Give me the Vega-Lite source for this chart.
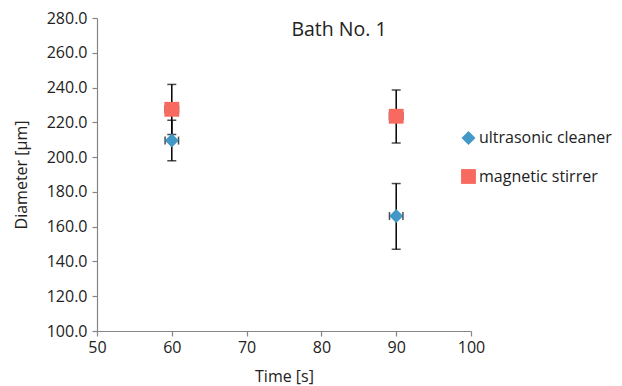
{
  "$schema": "https://vega.github.io/schema/vega-lite/v6.json",
  "autosize": "none",
  "width": 374,
  "height": 313,
  "padding": {"left": 97, "top": 18, "right": 151, "bottom": 55},
  "background": "white",
  "config": {
    "view": {"stroke": null},
    "font": "Open Sans",
    "axis": {"grid": false, "domainColor": "#868686", "tickColor": "#868686", "domainWidth": 1.2, "tickWidth": 1.2, "labelColor": "#222222", "titleColor": "#222222", "labelFont": "Open Sans", "titleFont": "Open Sans", "labelFontSize": 16, "titleFontSize": 16, "titleFontWeight": "normal", "tickSize": 5, "labelOverlap": false, "labelFlush": false, "labelSeparation": 0}
  },
  "title": {"text": "Bath No. 1", "font": "Open Sans", "fontSize": 19.5, "fontWeight": "normal", "color": "#222222", "anchor": "middle", "baseline": "alphabetic", "offset": 0, "dy": 45, "dx": 55},
  "data": {"values": [
    {"series": "ultrasonic cleaner", "time": 60, "d": 209.5, "ylo": 197.9, "yhi": 221.2, "xlo": 59.1, "xhi": 60.9},
    {"series": "ultrasonic cleaner", "time": 90, "d": 166.1, "ylo": 147.0, "yhi": 184.8, "xlo": 89.1, "xhi": 90.9},
    {"series": "magnetic stirrer", "time": 60, "d": 227.5, "ylo": 213.0, "yhi": 241.8, "xlo": 59.1, "xhi": 60.9},
    {"series": "magnetic stirrer", "time": 90, "d": 223.5, "ylo": 208.1, "yhi": 238.6, "xlo": 89.1, "xhi": 90.9}
  ]},
  "encoding": {
    "x": {"field": "time", "type": "quantitative", "scale": {"domain": [50, 100], "nice": false}, "axis": {"values": [50, 60, 70, 80, 90, 100], "title": "Time [s]", "titlePadding": 13, "labelPadding": 3, "labelOverlap": false, "labelFlush": false}},
    "y": {"field": "d", "type": "quantitative", "scale": {"domain": [100, 280], "nice": false}, "axis": {"values": [100, 120, 140, 160, 180, 200, 220, 240, 260, 280], "tickCount": 10, "format": ".1f", "title": "Diameter [µm]", "titlePadding": 17, "labelPadding": 5, "labelOverlap": false, "labelFlush": false, "labelBound": false}}
  },
  "layer": [
    {
      "mark": {"type": "rule", "color": "black", "strokeWidth": 1.5},
      "encoding": {
        "y": {"field": "ylo", "type": "quantitative"},
        "y2": {"field": "yhi"}
      }
    },
    {
      "mark": {"type": "rule", "color": "black", "strokeWidth": 1.5},
      "encoding": {
        "x": {"field": "xlo", "type": "quantitative"},
        "x2": {"field": "xhi"}
      }
    },
    {
      "mark": {"type": "tick", "orient": "horizontal", "color": "black", "size": 9, "thickness": 1.5},
      "encoding": {"y": {"field": "ylo", "type": "quantitative"}}
    },
    {
      "mark": {"type": "tick", "orient": "horizontal", "color": "black", "size": 9, "thickness": 1.5},
      "encoding": {"y": {"field": "yhi", "type": "quantitative"}}
    },
    {
      "mark": {"type": "tick", "orient": "vertical", "color": "black", "size": 8, "thickness": 1.5},
      "encoding": {"x": {"field": "xlo", "type": "quantitative"}}
    },
    {
      "mark": {"type": "tick", "orient": "vertical", "color": "black", "size": 8, "thickness": 1.5},
      "encoding": {"x": {"field": "xhi", "type": "quantitative"}}
    },
    {
      "mark": {"type": "point", "filled": true, "opacity": 1},
      "encoding": {
        "color": {"field": "series", "type": "nominal", "scale": {"domain": ["ultrasonic cleaner", "magnetic stirrer"], "range": ["#4398C8", "#F8695F"]},
          "legend": {"title": null, "orient": "none", "legendX": 363, "legendY": 112, "padding": 0, "labelFont": "Open Sans", "labelFontSize": 16, "labelColor": "#222222", "rowPadding": 22, "symbolSize": 144, "symbolOpacity": 1, "labelOffset": 2}},
        "shape": {"field": "series", "type": "nominal", "scale": {"domain": ["ultrasonic cleaner", "magnetic stirrer"], "range": ["diamond", "square"]}, "legend": null},
        "size": {"field": "series", "type": "nominal", "scale": {"domain": ["ultrasonic cleaner", "magnetic stirrer"], "range": [196, 220]}, "legend": null}
      }
    }
  ]
}
